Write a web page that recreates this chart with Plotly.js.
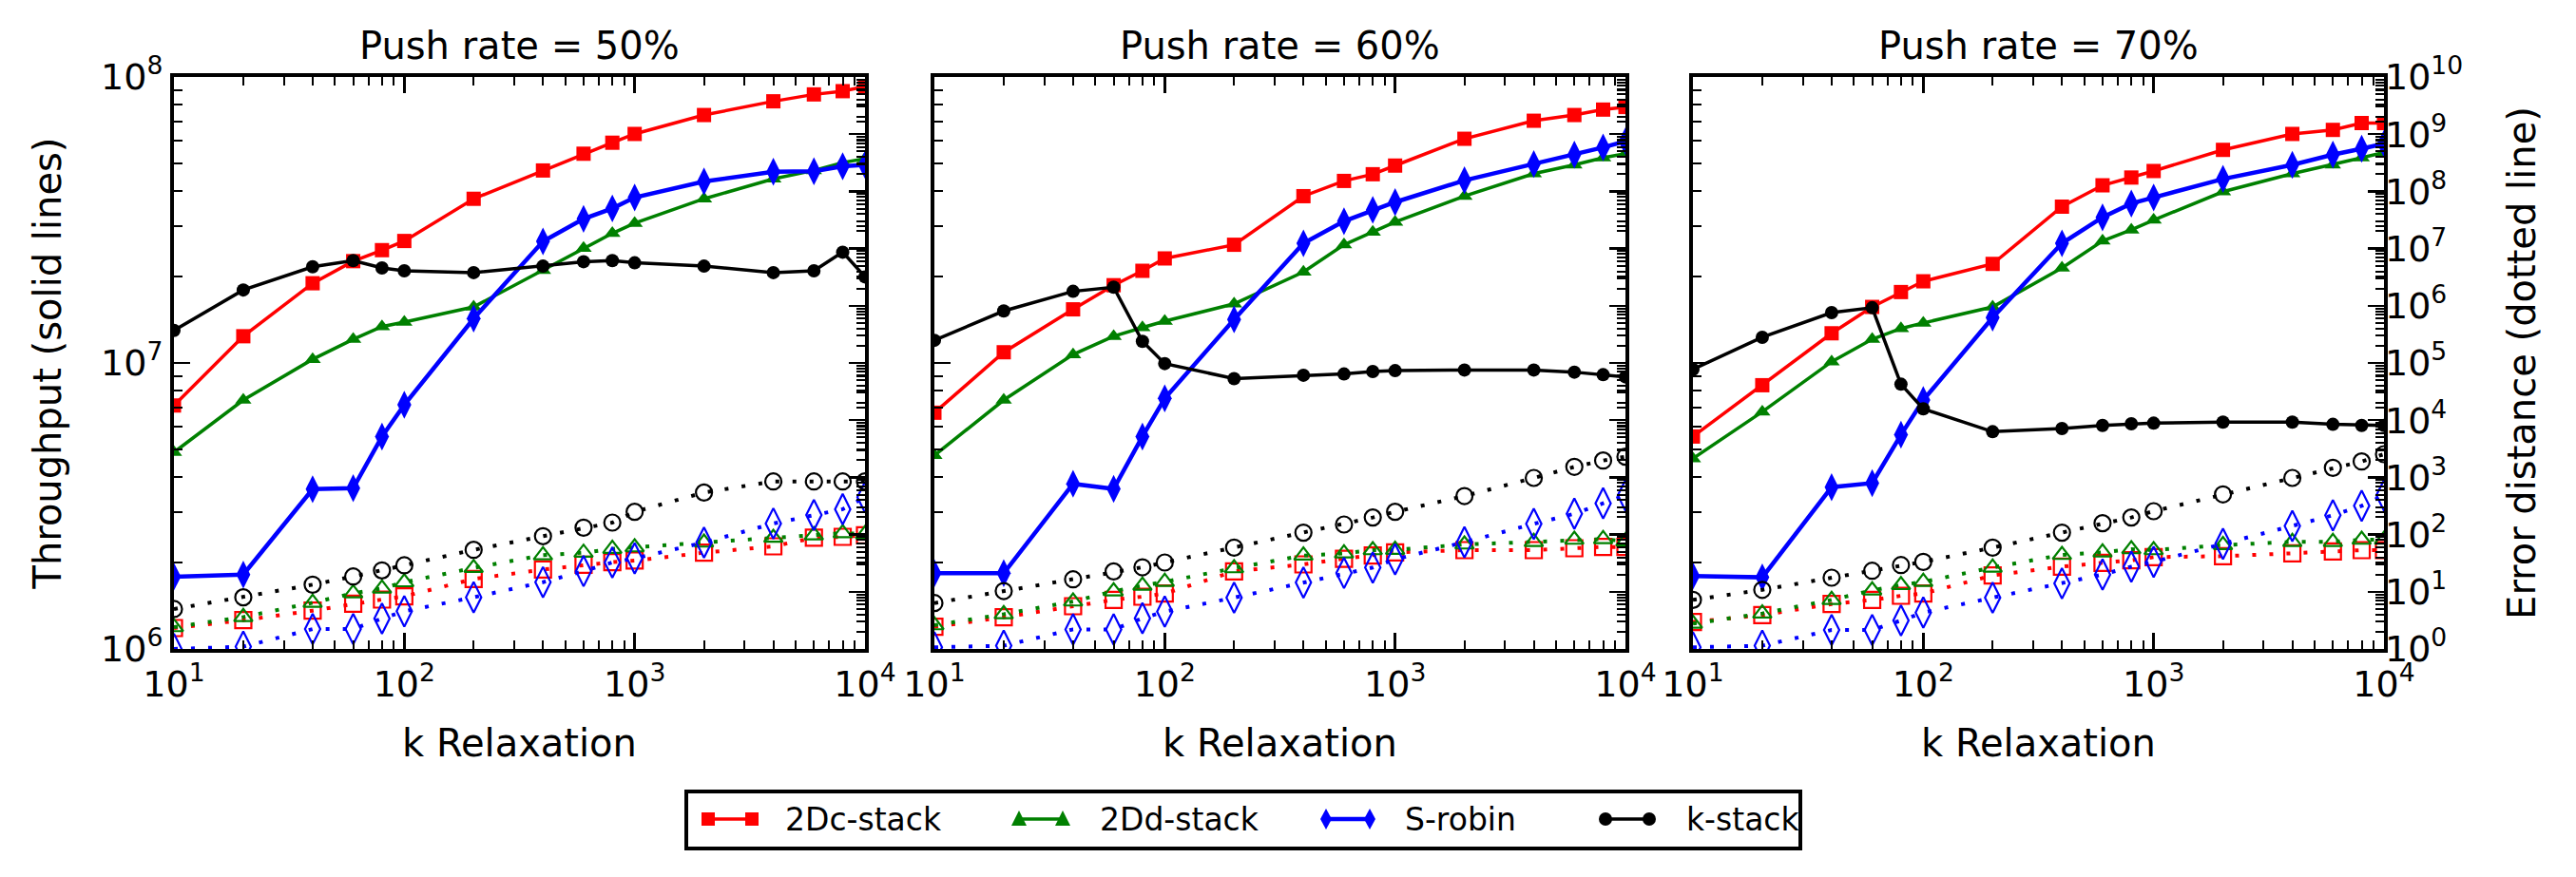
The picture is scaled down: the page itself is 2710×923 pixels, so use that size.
<!DOCTYPE html>
<html>
<head>
<meta charset="utf-8">
<script src="https://cdn.plot.ly/plotly-3.0.1.min.js"></script>
<style>
  html, body { margin: 0; padding: 0; background: #fff; }
  #chart { width: 2710px; height: 923px; }
</style>
</head>
<body>
<div id="chart"></div>
<script>
// Relaxation values (x axis)
const kRelax = [10, 20, 40, 60, 80, 100, 200, 400, 600, 800, 1000, 2000, 4000, 6000, 8000, 10000];

// Series names
const seriesNames = ['2Dc-stack', '2Dd-stack', 'S-robin', 'k-stack'];

// Panel titles
const panelTitles = ['Push rate = 50%', 'Push rate = 60%', 'Push rate = 70%'];

// Push rate 50%: throughput (ops/s) and error distance
const tp50_2dc    = [7.1e6, 1.24e7, 1.90e7, 2.27e7, 2.48e7, 2.67e7, 3.75e7, 4.71e7, 5.39e7, 5.89e7, 6.32e7, 7.36e7, 8.22e7, 8.69e7, 8.92e7, 9.27e7];
const tp50_2dd    = [4.87e6, 7.42e6, 1.03e7, 1.21e7, 1.34e7, 1.39e7, 1.57e7, 2.11e7, 2.52e7, 2.84e7, 3.08e7, 3.75e7, 4.40e7, 4.71e7, 5.02e7, 5.18e7];
const tp50_srobin = [1.79e6, 1.82e6, 3.62e6, 3.65e6, 5.53e6, 7.14e6, 1.43e7, 2.66e7, 3.19e7, 3.47e7, 3.79e7, 4.31e7, 4.66e7, 4.68e7, 4.87e7, 4.93e7];
const tp50_kstack = [1.30e7, 1.80e7, 2.17e7, 2.28e7, 2.15e7, 2.10e7, 2.07e7, 2.18e7, 2.26e7, 2.28e7, 2.24e7, 2.18e7, 2.07e7, 2.10e7, 2.44e7, 2.00e7];
const err50_2dc    = [2.32, 3.19, 4.68, 6.19, 7.31, 8.30, 16.7, 24.5, 29.7, 32.9, 35.1, 48.2, 62.2, 87.9, 91.2, 97];
const err50_2dd    = [2.41, 3.62, 6.43, 9.43, 11.4, 14.7, 26.1, 43.5, 48.2, 56.2, 59.9, 72.5, 87.9, 97.2, 106, 102];
const err50_srobin = [1.0, 1.1, 2.23, 2.23, 3.40, 4.56, 8.0, 14.7, 23.0, 32.5, 38.3, 72.5, 156, 220, 277, 449];
const err50_kstack = [4.99, 8.0, 13.3, 18.5, 23.6, 29.0, 54.1, 93.6, 132, 162, 250, 543, 849, 849, 849, 850];

// Push rate 60%
const tp60_2dc    = [6.70e6, 1.09e7, 1.54e7, 1.87e7, 2.10e7, 2.32e7, 2.59e7, 3.83e7, 4.33e7, 4.57e7, 4.90e7, 6.08e7, 7.03e7, 7.36e7, 7.69e7, 7.85e7];
const tp60_2dd    = [4.75e6, 7.42e6, 1.07e7, 1.24e7, 1.33e7, 1.40e7, 1.61e7, 2.08e7, 2.59e7, 2.87e7, 3.11e7, 3.83e7, 4.59e7, 4.93e7, 5.22e7, 5.39e7];
const tp60_srobin = [1.84e6, 1.84e6, 3.78e6, 3.63e6, 5.53e6, 7.52e6, 1.42e7, 2.62e7, 3.13e7, 3.43e7, 3.65e7, 4.35e7, 4.96e7, 5.35e7, 5.67e7, 5.96e7];
const tp60_kstack = [1.20e7, 1.52e7, 1.78e7, 1.84e7, 1.19e7, 9.95e6, 8.81e6, 9.06e6, 9.15e6, 9.34e6, 9.40e6, 9.45e6, 9.45e6, 9.29e6, 9.10e6, 8.94e6];
const err60_2dc    = [2.44, 3.58, 5.59, 7.21, 8.20, 9.31, 22.7, 30.1, 37.8, 43.0, 48.8, 53.4, 53.4, 57.7, 60.7, 60.7];
const err60_2dd    = [2.60, 4.06, 6.77, 10.2, 12.8, 14.9, 25.8, 43.0, 47.0, 53.4, 54.1, 67.2, 74.4, 81.3, 83.4, 76.3];
const err60_srobin = [1.07, 1.14, 2.20, 2.20, 3.44, 4.50, 7.89, 14.5, 21.3, 26.5, 36.9, 73.5, 154, 231, 352, 485];
const err60_kstack = [6.35, 10.3, 16.5, 22.7, 26.8, 32.5, 59.1, 108, 150, 199, 250, 472, 977, 1528, 1972, 2296];

// Push rate 70%
const tp70_2dc    = [5.53e6, 8.36e6, 1.27e7, 1.57e7, 1.77e7, 1.93e7, 2.22e7, 3.52e7, 4.18e7, 4.45e7, 4.69e7, 5.56e7, 6.32e7, 6.53e7, 6.90e7, 6.90e7];
const tp70_2dd    = [4.63e6, 6.75e6, 1.01e7, 1.21e7, 1.32e7, 1.38e7, 1.57e7, 2.15e7, 2.67e7, 2.92e7, 3.16e7, 3.97e7, 4.59e7, 4.93e7, 5.22e7, 5.45e7];
const tp70_srobin = [1.80e6, 1.78e6, 3.68e6, 3.80e6, 5.61e6, 7.42e6, 1.44e7, 2.62e7, 3.23e7, 3.61e7, 3.79e7, 4.40e7, 4.93e7, 5.35e7, 5.61e7, 5.85e7];
const tp70_kstack = [9.50e6, 1.23e7, 1.50e7, 1.56e7, 8.43e6, 6.91e6, 5.75e6, 5.90e6, 6.05e6, 6.13e6, 6.16e6, 6.21e6, 6.21e6, 6.10e6, 6.05e6, 6.05e6];
const err70_2dc    = [2.96, 3.91, 6.11, 7.21, 8.51, 9.31, 19.3, 27.5, 32.1, 35.5, 40.3, 41.9, 47.0, 50.7, 53.4, 53.4];
const err70_2dd    = [2.77, 4.17, 7.21, 10.6, 13.1, 14.9, 26.5, 44.1, 48.8, 55.5, 53.4, 65.5, 74.4, 74.4, 81.3, 81.3];
const err70_srobin = [1.07, 1.14, 2.15, 2.15, 3.15, 4.33, 7.89, 14.0, 20.0, 27.5, 33.3, 68.9, 141, 217, 318, 485];
const err70_kstack = [7.21, 10.8, 17.6, 23.3, 29.3, 33.3, 59.1, 108, 158, 199, 256, 504, 977, 1469, 1897, 2543];

// Tick labels
const xTickVals = [10, 100, 1000, 10000];
const xTickText = ['10<sup>1</sup>', '10<sup>2</sup>', '10<sup>3</sup>', '10<sup>4</sup>'];
const yTickVals = [1e6, 1e7, 1e8];
const yTickText = ['10<sup>6</sup>', '10<sup>7</sup>', '10<sup>8</sup>'];
const errTickVals = [1, 10, 100, 1e3, 1e4, 1e5, 1e6, 1e7, 1e8, 1e9, 1e10];
const errTickText = ['10<sup>0</sup>', '10<sup>1</sup>', '10<sup>2</sup>', '10<sup>3</sup>', '10<sup>4</sup>',
  '10<sup>5</sup>', '10<sup>6</sup>', '10<sup>7</sup>', '10<sup>8</sup>', '10<sup>9</sup>', '10<sup>10</sup>'];

const panels = [
  { tp: [tp50_2dc, tp50_2dd, tp50_srobin, tp50_kstack], err: [err50_2dc, err50_2dd, err50_srobin, err50_kstack] },
  { tp: [tp60_2dc, tp60_2dd, tp60_srobin, tp60_kstack], err: [err60_2dc, err60_2dd, err60_srobin, err60_kstack] },
  { tp: [tp70_2dc, tp70_2dd, tp70_srobin, tp70_kstack], err: [err70_2dc, err70_2dd, err70_srobin, err70_kstack] }
];

// Look of each series
const colors = ['#ff0000', '#008000', '#0000ff', '#000000'];
const solidSymbols = ['square', 'triangle-up', 'diamond-tall', 'circle'];
const openSymbols = ['square-open', 'triangle-up-open', 'diamond-tall-open', 'circle-open'];
const solidSizes = [15, 15, 21, 14];
const openSizes = [17, 17, 23, 17];
const lineWidths = [3.5, 3.5, 4.5, 3.5];

const W = 2710, H = 923;
const FONT = 'DejaVu Sans, Noto Sans, sans-serif';

// Minor tick positions for log axes
function minorTicks(lo, hi) {
  const out = [];
  for (let e = lo; e < hi; e++) {
    for (let m = 2; m <= 9; m++) out.push(m * Math.pow(10, e));
  }
  return out;
}

// Plot frame geometry in pixels
const panelX = [[183, 910], [983, 1710], [1781, 2508]];
const plotTop = 81, plotBottom = 683;
const yDomain = [(H - plotBottom) / H, (H - plotTop) / H];

const traces = [];
panels.forEach((p, pi) => {
  const xa = pi === 0 ? 'x' : 'x' + (pi + 1);
  const yLeft = pi === 0 ? 'y' : 'y' + (pi + 1);
  const yRight = 'y' + (pi + 4);
  for (let s = 0; s < 4; s++) {
    traces.push({
      type: 'scatter', mode: 'lines+markers',
      x: kRelax, y: p.tp[s], xaxis: xa, yaxis: yLeft,
      name: seriesNames[s], showlegend: false,
      line: { color: colors[s], width: lineWidths[s] },
      marker: { symbol: solidSymbols[s], size: solidSizes[s], color: colors[s], line: { width: 0 } }
    });
  }
  for (let s = 0; s < 4; s++) {
    traces.push({
      type: 'scatter', mode: 'lines+markers',
      x: kRelax, y: p.err[s], xaxis: xa, yaxis: yRight,
      name: seriesNames[s], showlegend: false,
      line: { color: colors[s], width: 4, dash: '4px,14px' },
      marker: { symbol: openSymbols[s], size: openSizes[s], color: colors[s], line: { width: 2.2, color: colors[s] } }
    });
  }
});

// Legend box below the panels: a line handle with a marker at each end, then the name
const px = v => v / W;
const py = v => 1 - v / H;
const legendBox = { x0: 722, x1: 1894, y0: 833, y1: 893 };
const legendHandleX = [738, 1065, 1388, 1682];
const legendTextX = [824, 1155, 1476, 1772];
const legendMidY = 862;
const handleLen = 60;

function markerShape(kind, cx, cy, color) {
  if (kind === 'square') {
    return { type: 'rect', xref: 'paper', yref: 'paper', x0: px(cx - 7), x1: px(cx + 7), y0: py(cy + 7), y1: py(cy - 7),
      fillcolor: color, line: { width: 0 } };
  }
  if (kind === 'circle') {
    return { type: 'circle', xref: 'paper', yref: 'paper', x0: px(cx - 7), x1: px(cx + 7), y0: py(cy + 7), y1: py(cy - 7),
      fillcolor: color, line: { width: 0 } };
  }
  let pts;
  if (kind === 'triangle-up') pts = [[cx, cy - 9], [cx + 8, cy + 7], [cx - 8, cy + 7]];
  else pts = [[cx, cy - 11], [cx + 6, cy], [cx, cy + 11], [cx - 6, cy]];
  const path = 'M' + pts.map(p => px(p[0]) + ',' + py(p[1])).join(' L') + ' Z';
  return { type: 'path', xref: 'paper', yref: 'paper', path, fillcolor: color, line: { width: 0 } };
}

const shapes = [{
  type: 'rect', xref: 'paper', yref: 'paper',
  x0: px(legendBox.x0), x1: px(legendBox.x1), y0: py(legendBox.y1), y1: py(legendBox.y0),
  line: { color: '#000', width: 4 }, fillcolor: '#fff'
}];
seriesNames.forEach((name, s) => {
  const x0 = legendHandleX[s], x1 = x0 + handleLen;
  shapes.push({ type: 'line', xref: 'paper', yref: 'paper', x0: px(x0 + 4), x1: px(x1 - 4), y0: py(legendMidY), y1: py(legendMidY),
    line: { color: colors[s], width: lineWidths[s] } });
  shapes.push(markerShape(solidSymbols[s], x0 + 7, legendMidY, colors[s]));
  shapes.push(markerShape(solidSymbols[s], x1 - 7, legendMidY, colors[s]));
});

const annotations = panelTitles.map((t, i) => ({
  text: t, xref: 'paper', yref: 'paper',
  x: (panelX[i][0] + panelX[i][1]) / 2 / W, y: 1 - 48 / H,
  xanchor: 'center', yanchor: 'middle', showarrow: false,
  font: { family: FONT, size: 40, color: '#000' }
}));
seriesNames.forEach((name, s) => {
  annotations.push({
    text: name, xref: 'paper', yref: 'paper', x: px(legendTextX[s]), y: py(legendMidY),
    xanchor: 'left', yanchor: 'middle', showarrow: false,
    font: { family: FONT, size: 33, color: '#000' }
  });
});

const tickCommon = {
  ticks: 'inside', tickcolor: '#000', tickwidth: 2.5,
  showgrid: false, zeroline: false, automargin: false,
  tickfont: { family: FONT, size: 38, color: '#000' }
};

const layout = {
  width: W, height: H,
  margin: { l: 0, r: 0, t: 0, b: 0 },
  paper_bgcolor: '#fff', plot_bgcolor: '#fff',
  font: { family: FONT, color: '#000' },
  showlegend: false,
  shapes, annotations
};

for (let i = 0; i < 3; i++) {
  const sfx = i === 0 ? '' : String(i + 1);
  layout['xaxis' + sfx] = Object.assign({}, tickCommon, {
    type: 'log', domain: [panelX[i][0] / W, panelX[i][1] / W],
    anchor: i === 0 ? 'y' : 'y' + (i + 1),
    range: [1, 4], tickmode: 'array', tickvals: xTickVals, ticktext: xTickText,
    ticklen: 17, showline: true, linewidth: 4, linecolor: '#000', mirror: 'ticks',
    minor: { tickmode: 'array', tickvals: minorTicks(1, 4), ticks: 'inside', ticklen: 9, tickwidth: 2, tickcolor: '#000' },
    title: { text: 'k Relaxation', font: { family: FONT, size: 40, color: '#000' }, standoff: 28 }
  });
  layout['yaxis' + sfx] = Object.assign({}, tickCommon, {
    type: 'log', domain: yDomain, anchor: i === 0 ? 'x' : 'x' + (i + 1),
    range: [6, 8], tickmode: 'array', tickvals: yTickVals, ticktext: yTickText,
    showticklabels: i === 0,
    ticklen: 17, showline: true, linewidth: 4, linecolor: '#000', mirror: 'ticks',
    minor: { tickmode: 'array', tickvals: minorTicks(6, 8), ticks: 'inside', ticklen: 9, tickwidth: 2, tickcolor: '#000' },
    title: i === 0 ? { text: 'Throughput (solid lines)', font: { family: FONT, size: 40, color: '#000' }, standoff: 30 } : { text: '' }
  });
  layout['yaxis' + (i + 4)] = Object.assign({}, tickCommon, {
    type: 'log', overlaying: i === 0 ? 'y' : 'y' + (i + 1), side: 'right',
    anchor: i === 0 ? 'x' : 'x' + (i + 1),
    range: [0, 10], tickmode: 'array', tickvals: errTickVals, ticktext: errTickText,
    showticklabels: i === 2, showline: false,
    ticklen: 17,
    minor: { tickmode: 'array', tickvals: minorTicks(0, 10), ticks: 'inside', ticklen: 9, tickwidth: 2, tickcolor: '#000' },
    title: i === 2 ? { text: 'Error distance (dotted line)', font: { family: FONT, size: 40, color: '#000' }, standoff: 48 } : { text: '' }
  });
}

Plotly.newPlot('chart', traces, layout, { displayModeBar: false, staticPlot: true });
</script>
</body>
</html>
